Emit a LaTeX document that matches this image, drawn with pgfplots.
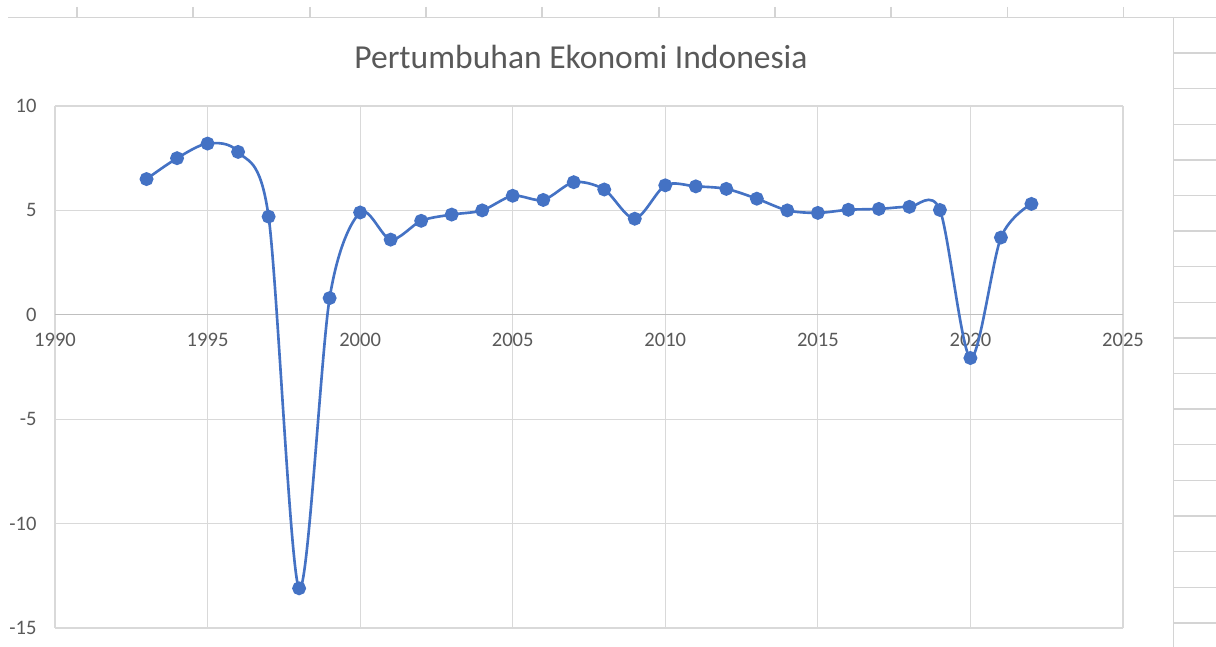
\documentclass[border=0pt]{standalone}
\usepackage{pgfplots}
\pgfplotsset{compat=1.18}
\usepackage{fontspec}
\setmainfont{Carlito}
\definecolor{exblue}{HTML}{4472C4}
\definecolor{exgrid}{HTML}{D9D9D9}
\definecolor{exaxis}{HTML}{BFBFBF}
\definecolor{extext}{HTML}{595959}
\definecolor{sheet}{HTML}{D4D4D4}
\begin{document}
\begin{tikzpicture}
\useasboundingbox (0,0) rectangle (24.32cm,12.94cm);
% spreadsheet cells around the chart (1 unit = 1 px of the screenshot)
\begin{scope}[x=0.02cm,y=-0.02cm,shift={(0,12.94cm)}]
  \draw[sheet,line width=0.8pt] (8,17.5) -- (1216,17.5);
  \foreach \x in {77,193,310,426,542,659,775,891,1007,1123}
    \draw[sheet,line width=0.8pt] (\x,7) -- (\x,17.5);
  \draw[sheet,line width=0.8pt] (1173,17.5) -- (1173,647);
  \foreach \k in {0,...,17}
    \draw[sheet,line width=0.8pt] (1173,{17.5+35.6*\k}) -- (1216,{17.5+35.6*\k});
\end{scope}
\node[font=\fontsize{19.1}{23}\selectfont, text=extext] at (11.62cm,11.8cm) {Pertumbuhan Ekonomi Indonesia};
\begin{axis}[
    at={(1.1cm,0.38cm)}, anchor=south west,
    scale only axis, width=21.36cm, height=10.44cm,
    xmin=1990, xmax=2025, ymin=-15, ymax=10,
    xtick={1990,1995,...,2025},
    xticklabels={1990,1995,2000,2005,2010,2015,2020,2025},
    ytick={-15,-10,-5,0,5,10},
    yticklabels={-15,-10,-5,0,5,10},
    axis x line=middle, axis y line=left,
    hide obscured x ticks=false, hide obscured y ticks=false,
    x axis line style={-, draw=exaxis, line width=0.7pt},
    y axis line style={draw=none},
    major tick length=0pt,
    grid=major, grid style={exgrid, line width=0.6pt},
    tick label style={font=\fontsize{11.7}{14}\selectfont, text=extext},
    xticklabel style={yshift=-7pt},
    yticklabel style={xshift=-7pt},
    clip=false,
]
\addplot[exblue, line width=1.5pt, smooth, mark=*, mark size=3.2pt,
         mark options={fill=exblue, draw=exblue}] coordinates {
    (1993,6.5) (1994,7.5) (1995,8.2) (1996,7.8) (1997,4.7) (1998,-13.1)
    (1999,0.8) (2000,4.9) (2001,3.6) (2002,4.5) (2003,4.8) (2004,5.0)
    (2005,5.7) (2006,5.5) (2007,6.35) (2008,6.0) (2009,4.6) (2010,6.2)
    (2011,6.15) (2012,6.03) (2013,5.56) (2014,5.0) (2015,4.88) (2016,5.03)
    (2017,5.07) (2018,5.17) (2019,5.02) (2020,-2.07) (2021,3.7) (2022,5.31)
};
\end{axis}
\end{tikzpicture}
\end{document}
